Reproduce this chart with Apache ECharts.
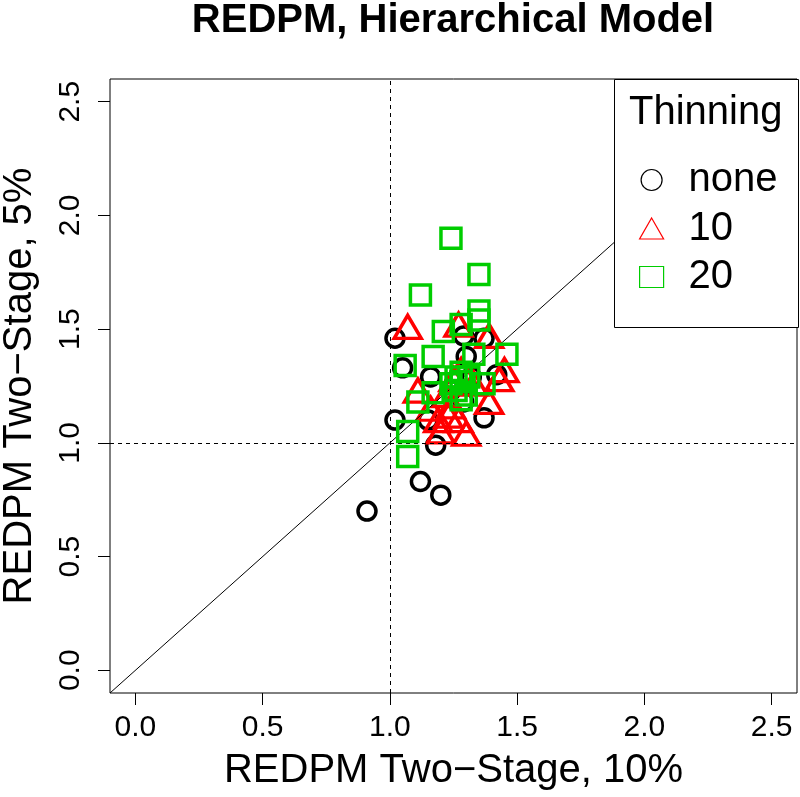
<!DOCTYPE html>
<html><head><meta charset="utf-8">
<script src="https://cdn.jsdelivr.net/npm/echarts@6/dist/echarts.min.js"></script>
<style>html,body{margin:0;padding:0;background:#fff}#c{width:800px;height:797px}</style>
</head><body><div id="c"></div>
<script>
const titleText = 'REDPM, Hierarchical Model';
const xName = 'REDPM Two\u2212Stage, 10%';
const yName = 'REDPM Two\u2212Stage, 5%';
const legendTitle = 'Thinning';
const groupNames = ['none', '10', '20'];
const axisRange = [-0.1, 2.6];
const tickValues = [0, 0.5, 1.0, 1.5, 2.0, 2.5];
const refValue = 1;

const noneX = [1.02,1.05,1.02,0.91,1.12,1.20,1.18,1.16,1.15,1.37,1.42,1.29,1.37,1.30,1.29,1.24,1.32];
const noneY = [1.46,1.33,1.10,0.70,0.83,0.77,0.99,1.29,1.10,1.11,1.30,1.47,1.46,1.38,1.18,1.23,1.29];
const tenX = [1.07,1.11,1.27,1.39,1.45,1.39,1.30,1.20,1.19,1.23,1.24,1.27,1.22,1.28,1.33,1.25,1.16,1.43];
const tenY = [1.51,1.23,1.52,1.47,1.32,1.18,1.04,1.05,1.10,1.12,1.16,1.10,1.21,1.32,1.26,1.28,1.15,1.28];
const twentyX = [1.24,1.35,1.12,1.35,1.35,1.28,1.21,1.46,1.17,1.06,1.33,1.11,1.07,1.07,1.17,1.37,1.26,1.28,1.26,1.30,1.28,1.24,1.31,1.28];
const twentyY = [1.90,1.74,1.65,1.58,1.54,1.52,1.49,1.39,1.38,1.34,1.39,1.18,1.05,0.94,1.22,1.26,1.29,1.27,1.23,1.21,1.19,1.26,1.29,1.31];

const FONT = 'Liberation Sans, Arial, Helvetica, sans-serif';
const colors = ['#000000', '#FF0000', '#00CD00'];
const symbols = ['circle', 'triangle', 'rect'];
const sizes = [18, [27, 23], 20];
const zip = (a, b) => a.map((v, i) => [v, b[i]]);
const groups = [zip(noneX, noneY), zip(tenX, tenY), zip(twentyX, twentyY)];

const chart = echarts.init(document.getElementById('c'), null, {renderer: 'canvas'});

function axis(name, gap, isY) {
  return {
    type: 'value', min: axisRange[0], max: axisRange[1],
    name: name, nameLocation: 'middle', nameGap: gap,
    nameTextStyle: {fontFamily: FONT, fontSize: 40, color: '#000'},
    axisLine: {show: false, onZero: false},
    splitLine: {show: false},
    axisTick: {show: true, length: 12, customValues: tickValues, lineStyle: {color: '#000', width: 1}},
    axisLabel: {show: true, customValues: tickValues, rotate: isY ? 90 : 0, margin: isY ? 24 : 20,
      fontFamily: FONT, fontSize: 30, color: '#000', formatter: v => v.toFixed(1)}
  };
}

const series = groupNames.map((n, i) => ({
  name: n, type: 'scatter', data: groups[i], symbol: symbols[i], symbolSize: sizes[i],
  itemStyle: {color: 'rgba(0,0,0,0)', borderColor: colors[i], borderWidth: 3.5, opacity: 1},
  z: 3 + i
}));
series.unshift({
  name: 'ref', type: 'line', data: [], silent: true, z: 1,
  markLine: {
    silent: true, symbol: 'none', label: {show: false},
    data: [
      [{coord: [axisRange[0], axisRange[0]]}, {coord: [axisRange[1], axisRange[1]]}],
      {xAxis: refValue, lineStyle: {type: [4, 4]}},
      {yAxis: refValue, lineStyle: {type: [4, 4]}}
    ],
    lineStyle: {color: '#000', width: 1, type: 'solid'}
  }
});

chart.setOption({
  animation: false,
  backgroundColor: '#fff',
  title: {text: titleText, left: 453, textAlign: 'center', top: 1, padding: 0,
    textStyle: {fontFamily: FONT, fontSize: 40, fontWeight: 'bold', color: '#000'}},
  grid: {left: 110, right: 3, top: 79, bottom: 104, show: true, borderColor: '#000', borderWidth: 1,
    backgroundColor: 'transparent', outerBoundsMode: 'none', containLabel: false},
  xAxis: axis(xName, 58, false),
  yAxis: axis(yName, 70, true),
  legend: {
    data: groupNames.map((n, i) => ({name: n, icon: symbols[i],
      itemStyle: {color: 'rgba(0,0,0,0)', borderColor: colors[i], borderWidth: 1.2}})),
    orient: 'vertical', left: 639, top: 160, padding: 0,
    itemWidth: 24, itemHeight: 21, itemGap: 8.5, z: 20, selectedMode: false,
    textStyle: {fontFamily: FONT, fontSize: 40, lineHeight: 40, color: '#000', padding: [0, 0, 0, 20]}
  },
  graphic: [
    {type: 'rect', z: 15, shape: {x: 614.5, y: 79.5, width: 184, height: 248},
      style: {fill: '#fff', stroke: '#000', lineWidth: 1}},
    {type: 'text', z: 20, x: 629, y: 113,
      style: {text: legendTitle, fontFamily: FONT, fontSize: 40, fill: '#000', textVerticalAlign: 'middle'}}
  ],
  series: series
});
</script></body></html>
